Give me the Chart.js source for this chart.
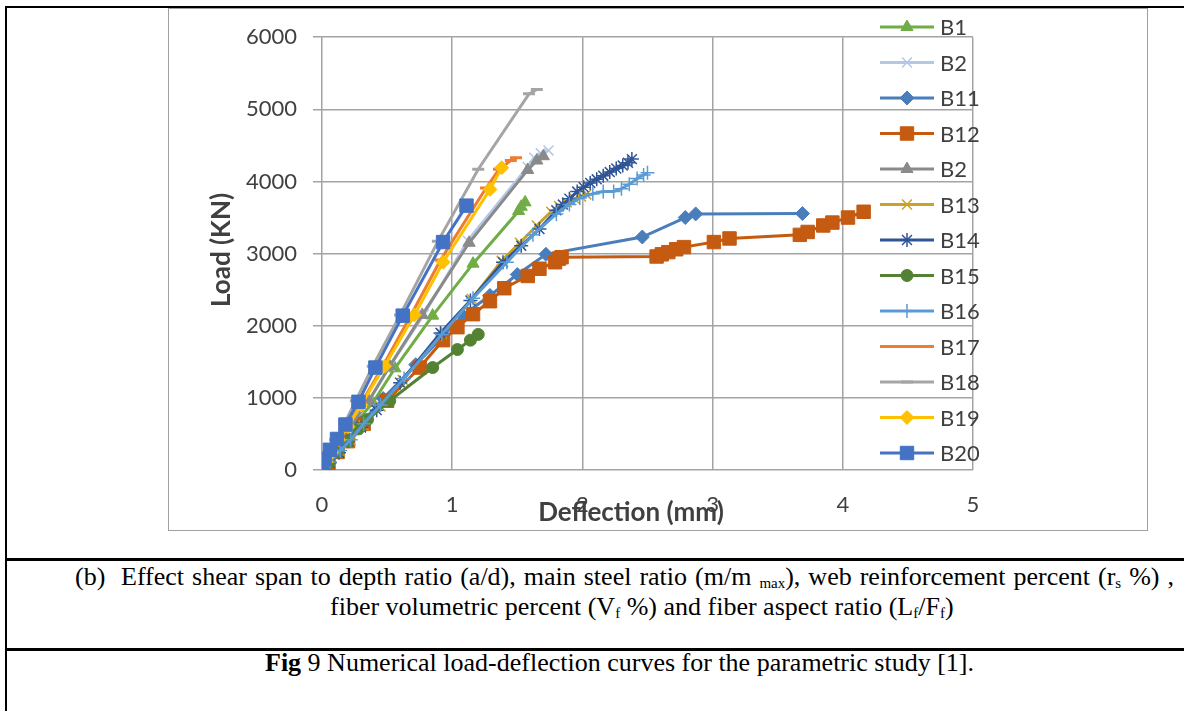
<!DOCTYPE html>
<html>
<head>
<meta charset="utf-8">
<script src="https://cdn.jsdelivr.net/npm/chart.js@4.4.0/dist/chart.umd.min.js"></script>
<style>
  html, body { margin: 0; padding: 0; background: #fff; }
  body { width: 1184px; height: 711px; position: relative; overflow: hidden; }
  .rule { position: absolute; background: #000; }
  #plot { position: absolute; left: 168px; top: 8px; }
  #frame { position: absolute; left: 168px; top: 8px; width: 980px; height: 523px;
           border: 1px solid #a0a0a0; box-sizing: border-box; pointer-events: none; }
  .cap { position: absolute; font-family: "Liberation Serif", "Times New Roman", serif;
         font-size: 26px; line-height: 30px; color: #000; white-space: nowrap; }
  .cap sub { font-size: 15px; vertical-align: -3px; line-height: 0; }
</style>
</head>
<body>
<div class="rule" style="left:5px; top:6px; width:1179px; height:2px"></div>
<div class="rule" style="left:5px; top:6px; width:2px; height:705px"></div>
<div class="rule" style="left:5px; top:558px; width:1179px; height:3px"></div>
<div class="rule" style="left:5px; top:648px; width:1179px; height:3px"></div>

<canvas id="plot" width="980" height="523"></canvas>
<div id="frame"></div>

<div class="cap" style="left:75px; top:562px">(b)</div>
<div class="cap" style="left:121px; top:562px; word-spacing:1.5px">Effect shear span to depth ratio (a/d), main steel ratio (m/m <sub>max</sub>), web reinforcement percent (r<sub>s</sub> %) ,</div>
<div class="cap" style="left:330px; top:592px">fiber volumetric percent (V<sub>f</sub> %) and fiber aspect ratio (L<sub>f</sub>/F<sub>f</sub>)</div>
<div class="cap" style="left:265px; top:648px"><b>Fig</b> 9 Numerical load-deflection curves for the parametric study [1].</div>

<script>
// deflection (mm) / load (KN) pairs for each beam
const b1Defl = [0, 0.04, 0.10, 0.17, 0.25, 0.39, 0.56, 0.85, 1.16, 1.51, 1.53, 1.56];
const b1Load = [0, 110, 270, 440, 640, 930, 1410, 2140, 2860, 3590, 3650, 3710];

const b2aDefl = [0, 0.03, 0.08, 0.15, 0.22, 0.36, 0.52, 0.78, 1.12, 1.58, 1.63, 1.68, 1.74];
const b2aLoad = [0, 100, 260, 440, 620, 960, 1440, 2150, 3180, 4200, 4330, 4390, 4430];

const b11Defl = [0, 0.05, 0.12, 0.20, 0.30, 0.47, 0.72, 1.08, 1.29, 1.50, 1.72, 2.46, 2.79, 2.87, 3.69];
const b11Load = [0, 110, 270, 430, 650, 990, 1460, 2140, 2420, 2710, 2990, 3230, 3500, 3550, 3555];

const b12Defl = [0, 0.05, 0.12, 0.20, 0.32, 0.50, 0.75, 0.93, 1.04, 1.16, 1.29, 1.40, 1.58, 1.67, 1.79,
                 1.82, 1.84, 2.57, 2.61, 2.66, 2.72, 2.78, 3.01, 3.13, 3.67, 3.73, 3.85, 3.92, 4.04, 4.16];
const b12Load = [0, 100, 250, 400, 640, 960, 1420, 1800, 1980, 2160, 2340, 2520, 2690, 2790, 2880,
                 2930, 2950, 2960, 2990, 3020, 3060, 3090, 3160, 3210, 3260, 3300, 3390, 3430, 3500, 3580];

const b2bDefl = [0, 0.03, 0.08, 0.15, 0.22, 0.36, 0.52, 0.77, 1.13, 1.58, 1.65, 1.70];
const b2bLoad = [0, 100, 260, 440, 620, 960, 1440, 2150, 3150, 4160, 4290, 4350];

const b13Defl = [0, 0.06, 0.14, 0.22, 0.32, 0.45, 0.62, 0.92, 1.15, 1.38, 1.52, 1.65, 1.76, 1.82, 1.88, 1.94, 1.99, 2.03];
const b13Load = [0, 105, 260, 410, 620, 880, 1250, 1890, 2370, 2900, 3150, 3390, 3580, 3660, 3710, 3760, 3790, 3820];

const b14Defl = [0, 0.06, 0.13, 0.20, 0.30, 0.42, 0.60, 0.91, 1.14, 1.39, 1.53, 1.67, 1.80, 1.85, 1.90,
                 1.96, 2.01, 2.06, 2.11, 2.16, 2.21, 2.26, 2.31, 2.35, 2.38];
const b14Load = [0, 100, 240, 400, 590, 830, 1210, 1900, 2350, 2880, 3110, 3340, 3600, 3680, 3760,
                 3860, 3920, 3980, 4030, 4080, 4130, 4180, 4220, 4260, 4310];

const b15Defl = [0, 0.05, 0.12, 0.20, 0.28, 0.35, 0.52, 0.85, 1.04, 1.14, 1.20];
const b15Load = [0, 100, 250, 400, 570, 700, 960, 1420, 1670, 1800, 1880];

const b16Defl = [0, 0.06, 0.14, 0.22, 0.32, 0.45, 0.63, 0.92, 1.16, 1.42, 1.62, 1.80, 1.90, 1.98, 2.08,
                 2.16, 2.24, 2.30, 2.36, 2.42, 2.47, 2.50];
const b16Load = [0, 110, 270, 420, 640, 900, 1270, 1880, 2380, 2880, 3260, 3550, 3680, 3770, 3830,
                 3860, 3860, 3900, 3960, 4040, 4090, 4120];

const b17Defl = [0, 0.03, 0.07, 0.13, 0.20, 0.30, 0.47, 0.69, 0.91, 1.26, 1.36, 1.45, 1.49];
const b17Load = [0, 110, 250, 430, 620, 920, 1450, 2170, 2910, 3910, 4170, 4290, 4330];

const b18Defl = [0, 0.02, 0.05, 0.10, 0.17, 0.26, 0.39, 0.60, 0.89, 1.20, 1.59, 1.65];
const b18Load = [0, 100, 250, 420, 640, 960, 1440, 2150, 3170, 4170, 5215, 5275];

const b19Defl = [0, 0.03, 0.07, 0.13, 0.20, 0.30, 0.48, 0.71, 0.93, 1.29, 1.38];
const b19Load = [0, 110, 240, 420, 600, 900, 1440, 2150, 2880, 3890, 4190];

const b20Defl = [0, 0, 0.02, 0.06, 0.115, 0.18, 0.28, 0.41, 0.62, 0.93, 1.11];
const b20Load = [0, 80, 155, 280, 430, 630, 945, 1420, 2140, 3160, 3665];

const xTicks = [0, 1, 2, 3, 4, 5];
const yTicks = [0, 1000, 2000, 3000, 4000, 5000, 6000];

// one entry per legend row, in legend order
const series = [
  { label: "B1",  x: b1Defl,  y: b1Load,  color: "#70ad47", marker: "triangle", r: 7,   bw: 1 },
  { label: "B2",  x: b2aDefl, y: b2aLoad, color: "#b4c7e7", marker: "crossRot", r: 7,   bw: 1.5 },
  { label: "B11", x: b11Defl, y: b11Load, color: "#4a7ebb", marker: "rectRot",  r: 7,   bw: 1 },
  { label: "B12", x: b12Defl, y: b12Load, color: "#c55a11", marker: "rect",     r: 9.5, bw: 1 },
  { label: "B2",  x: b2bDefl, y: b2bLoad, color: "#8a8a8a", marker: "triangle", r: 7,   bw: 1 },
  { label: "B13", x: b13Defl, y: b13Load, color: "#c9a227", marker: "crossRot", r: 7,   bw: 1.5 },
  { label: "B14", x: b14Defl, y: b14Load, color: "#2f5597", marker: "star",     r: 7,   bw: 1.5 },
  { label: "B15", x: b15Defl, y: b15Load, color: "#548235", marker: "circle",   r: 6,   bw: 1 },
  { label: "B16", x: b16Defl, y: b16Load, color: "#5b9bd5", marker: "cross",    r: 7,   bw: 1.5 },
  { label: "B17", x: b17Defl, y: b17Load, color: "#ed7d31", marker: "line",     r: 6,   bw: 3 },
  { label: "B18", x: b18Defl, y: b18Load, color: "#a5a5a5", marker: "line",     r: 6,   bw: 3 },
  { label: "B19", x: b19Defl, y: b19Load, color: "#ffc000", marker: "rectRot",  r: 7,   bw: 1 },
  { label: "B20", x: b20Defl, y: b20Load, color: "#4472c4", marker: "rect",     r: 9.5, bw: 1 }
];

const tickColor = "#404040";
const gridColor = "#a3a3a3";

const datasets = series.map((s, i) => ({
  label: s.label,
  data: s.x.map((v, k) => ({ x: v, y: s.y[k] })),
  showLine: true,
  tension: 0,
  borderColor: s.color,
  backgroundColor: s.color,
  borderWidth: 3,
  pointStyle: s.marker,
  pointRadius: s.r,
  pointBorderWidth: s.bw,
  pointBackgroundColor: s.color,
  pointBorderColor: s.color,
  order: series.length - 1 - i   // later series sit on top
}));

// legend drawn over the right part of the plot, plus the two axis titles
const overlay = {
  id: "overlay",
  afterDraw(chart) {
    const ctx = chart.ctx;
    const lx = 712, ly = 19, step = 35.5;
    chart.data.datasets.forEach((ds, i) => {
      const y = ly + i * step;
      ctx.save();
      ctx.strokeStyle = ds.borderColor;
      ctx.lineWidth = 3;
      ctx.beginPath();
      ctx.moveTo(lx, y);
      ctx.lineTo(lx + 54, y);
      ctx.stroke();
      ctx.fillStyle = ds.pointBackgroundColor;
      ctx.strokeStyle = ds.pointBorderColor;
      ctx.lineWidth = ds.pointBorderWidth;
      Chart.helpers.drawPoint(ctx, {
        pointStyle: ds.pointStyle, radius: ds.pointRadius,
        borderWidth: ds.pointBorderWidth, rotation: 0
      }, lx + 27, y);
      ctx.fillStyle = tickColor;
      ctx.font = "22px Lato";
      ctx.textAlign = "left";
      ctx.textBaseline = "middle";
      ctx.fillText(ds.label, lx + 60, y + 1);
      ctx.restore();
    });

    ctx.save();
    ctx.fillStyle = tickColor;
    ctx.font = "bold 26px Lato";
    ctx.textAlign = "center";
    ctx.textBaseline = "middle";
    ctx.fillText("Deflection (mm)", 463, 505);
    ctx.translate(54, 242);
    ctx.rotate(-Math.PI / 2);
    ctx.fillText("Load (KN)", 0, 0);
    ctx.restore();
  }
};

new Chart(document.getElementById("plot"), {
  type: "scatter",
  data: { datasets },
  plugins: [overlay],
  options: {
    responsive: false,
    animation: false,
    layout: { padding: { top: 20, right: 175, bottom: 0, left: 0 } },
    plugins: { legend: { display: false }, tooltip: { enabled: false } },
    scales: {
      x: {
        type: "linear",
        min: xTicks[0],
        max: xTicks[xTicks.length - 1],
        afterBuildTicks: s => { s.ticks = xTicks.map(v => ({ value: v })); },
        afterFit: s => { s.height = 61; },
        ticks: { color: tickColor, font: { family: "Lato", size: 22 }, padding: 22,
                 callback: v => String(v) },
        grid: { color: gridColor, lineWidth: 1.5, drawTicks: false },
        border: { display: false }
      },
      y: {
        min: yTicks[0],
        max: yTicks[yTicks.length - 1],
        afterBuildTicks: s => { s.ticks = yTicks.map(v => ({ value: v })); },
        afterFit: s => { s.width = 154; },
        ticks: { color: tickColor, font: { family: "Lato", size: 22 }, padding: 16,
                 callback: v => String(v) },
        grid: { color: gridColor, lineWidth: 1.5, tickLength: 9 },
        border: { display: false }
      }
    }
  }
});
</script>
</body>
</html>
